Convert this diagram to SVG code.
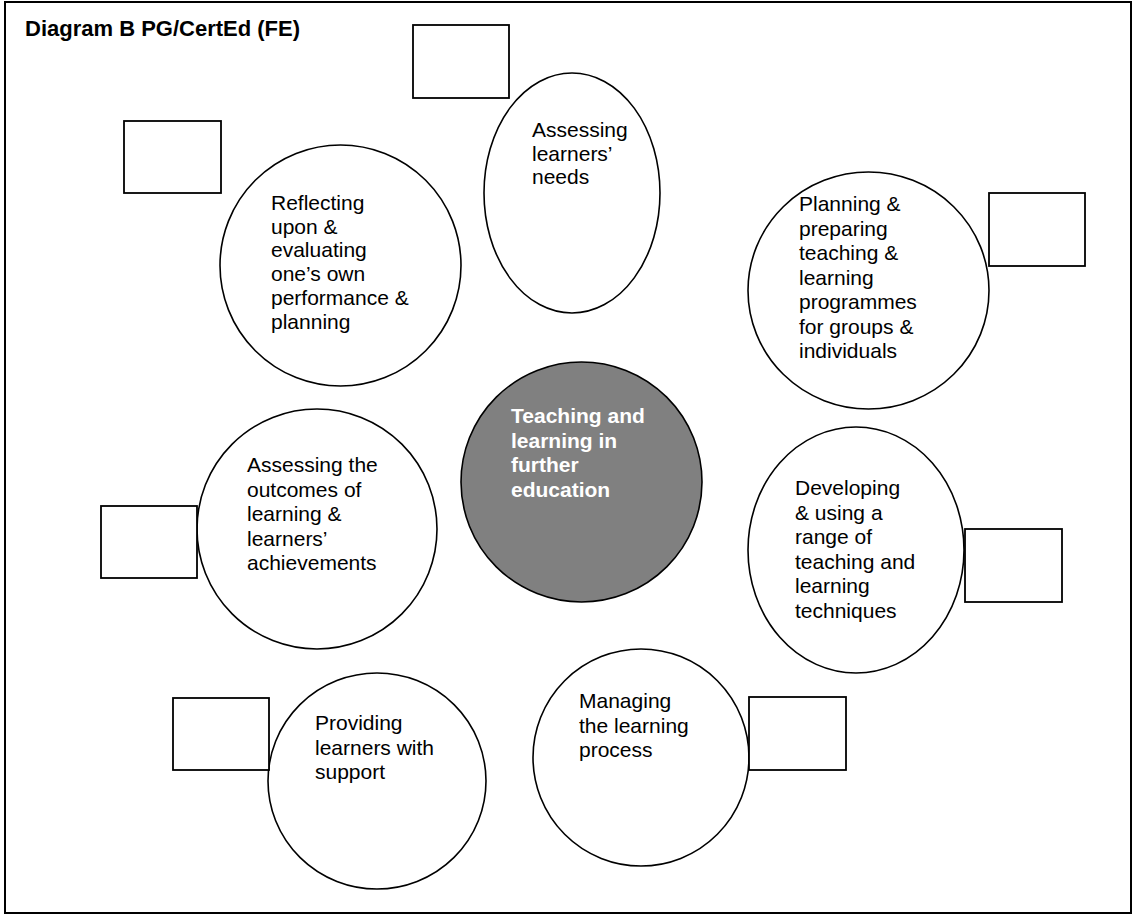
<svg xmlns="http://www.w3.org/2000/svg" width="1133" height="915" viewBox="0 0 1133 915">
<style>
.bg{fill:#fff}
.frame{fill:none;stroke:#000;stroke-width:2}
.c{fill:#fff;stroke:#000;stroke-width:1.6}
.hub{fill:#808080;stroke:#000;stroke-width:1.6}
.box{fill:#fff;stroke:#000;stroke-width:1.8}
.t{font-family:"Liberation Sans",Arial,sans-serif;font-size:21px;fill:#000}
.ht{font-family:"Liberation Sans",Arial,sans-serif;font-size:21px;font-weight:bold;fill:#fff}
.title{font-family:"Liberation Sans",Arial,sans-serif;font-size:22px;font-weight:bold;fill:#000}
</style>
<rect class="bg" x="0" y="0" width="1133" height="915"/>
<rect class="frame" x="5" y="2" width="1126" height="911"/>
<text class="title" x="25" y="36">Diagram B PG/CertEd (FE)</text>
<g id="connectors"></g>
<g id="n-needs">
<ellipse class="c" cx="572" cy="193" rx="88" ry="120"/>
<text class="t" x="532" y="137"><tspan x="532">Assessing</tspan><tspan x="532" dy="23.7">learners’</tspan><tspan x="532" dy="23.7">needs</tspan></text>
</g>
<g id="b-needs"><rect class="box" x="413" y="25" width="96" height="73"/></g>
<g id="n-reflect">
<ellipse class="c" cx="340.5" cy="265.5" rx="120.5" ry="120.5"/>
<text class="t" x="271" y="210"><tspan x="271">Reflecting</tspan><tspan x="271" dy="23.7">upon &amp;</tspan><tspan x="271" dy="23.7">evaluating</tspan><tspan x="271" dy="23.7">one’s own</tspan><tspan x="271" dy="23.7">performance &amp;</tspan><tspan x="271" dy="23.7">planning</tspan></text>
</g>
<g id="b-reflect"><rect class="box" x="124" y="121" width="97" height="72"/></g>
<g id="n-plan">
<ellipse class="c" cx="868.5" cy="290.5" rx="120.5" ry="118.5"/>
<text class="t" x="799" y="211"><tspan x="799">Planning &amp;</tspan><tspan x="799" dy="24.5">preparing</tspan><tspan x="799" dy="24.5">teaching &amp;</tspan><tspan x="799" dy="24.5">learning</tspan><tspan x="799" dy="24.5">programmes</tspan><tspan x="799" dy="24.5">for groups &amp;</tspan><tspan x="799" dy="24.5">individuals</tspan></text>
</g>
<g id="b-plan"><rect class="box" x="989" y="193" width="96" height="73"/></g>
<g id="n-hub">
<ellipse class="hub" cx="581.5" cy="482" rx="120.5" ry="120"/>
<text class="ht" x="511" y="423"><tspan x="511">Teaching and</tspan><tspan x="511" dy="24.5">learning in</tspan><tspan x="511" dy="24.5">further</tspan><tspan x="511" dy="24.5">education</tspan></text>
</g>
<g id="n-outcomes">
<ellipse class="c" cx="317" cy="529" rx="120" ry="120"/>
<text class="t" x="247" y="472"><tspan x="247">Assessing the</tspan><tspan x="247" dy="24.5">outcomes of</tspan><tspan x="247" dy="24.5">learning &amp;</tspan><tspan x="247" dy="24.5">learners’</tspan><tspan x="247" dy="24.5">achievements</tspan></text>
</g>
<g id="b-outcomes"><rect class="box" x="101" y="506" width="96" height="72"/></g>
<g id="n-develop">
<ellipse class="c" cx="856" cy="550" rx="108" ry="123"/>
<text class="t" x="795" y="495"><tspan x="795">Developing</tspan><tspan x="795" dy="24.6">&amp; using a</tspan><tspan x="795" dy="24.6">range of</tspan><tspan x="795" dy="24.6">teaching and</tspan><tspan x="795" dy="24.6">learning</tspan><tspan x="795" dy="24.6">techniques</tspan></text>
</g>
<g id="b-develop"><rect class="box" x="965" y="529" width="97" height="73"/></g>
<g id="n-manage">
<ellipse class="c" cx="641" cy="757.5" rx="108" ry="108.5"/>
<text class="t" x="579" y="708"><tspan x="579">Managing</tspan><tspan x="579" dy="24.5">the learning</tspan><tspan x="579" dy="24.5">process</tspan></text>
</g>
<g id="b-manage"><rect class="box" x="749" y="697" width="97" height="73"/></g>
<g id="n-support">
<ellipse class="c" cx="377" cy="781" rx="109" ry="108"/>
<text class="t" x="315" y="730"><tspan x="315">Providing</tspan><tspan x="315" dy="24.5">learners with</tspan><tspan x="315" dy="24.5">support</tspan></text>
</g>
<g id="b-support"><rect class="box" x="173" y="698" width="96" height="72"/></g>
</svg>
